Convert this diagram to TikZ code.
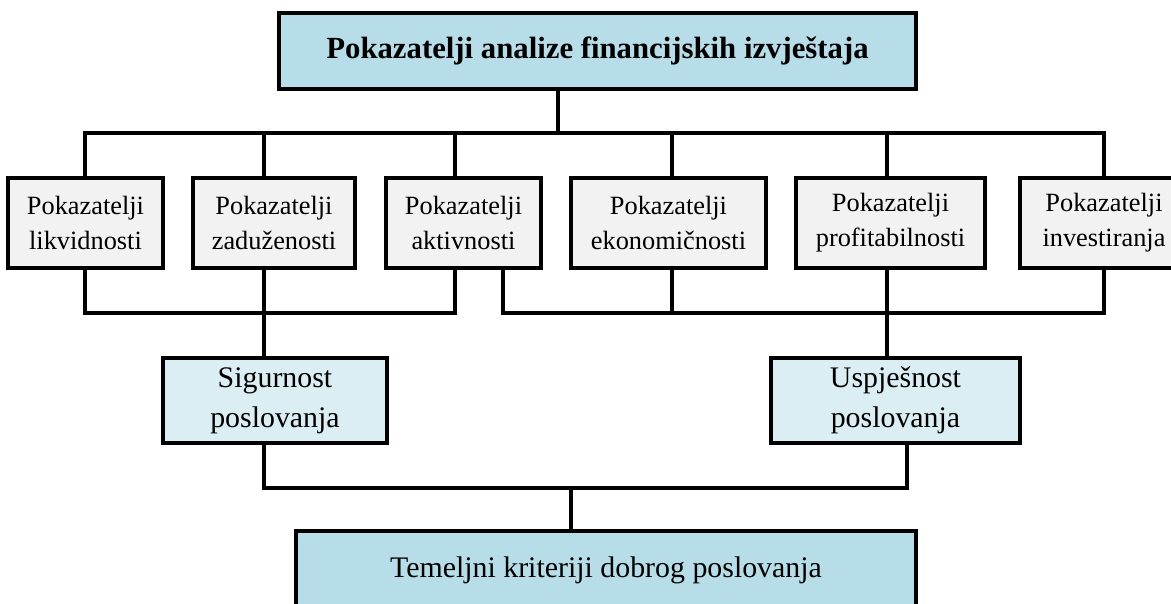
\documentclass[tikz,border=0pt]{standalone}
\usepackage{fontspec}
\setmainfont{Liberation Serif}
\definecolor{titleblue}{HTML}{B7DDE8}
\definecolor{paleblue}{HTML}{DAEEF3}
\definecolor{boxgray}{HTML}{F2F2F2}
\begin{document}
\begin{tikzpicture}[x=0.02cm, y=-0.02cm]
    \tikzstyle{box}=[rectangle, draw=black, line width=2pt, inner sep=0pt, align=center, text=black]
    \tikzstyle{kind}=[box, fill=boxgray, minimum height=1.8cm, font=\fontsize{15}{20}\selectfont]
    \tikzstyle{goal}=[box, fill=paleblue, minimum height=1.7cm, font=\fontsize{17}{23}\selectfont]
    \tikzstyle{link}=[black, line width=2pt]

    \path[use as bounding box, clip] (0,0) rectangle (1171,604);

    \node[box, fill=titleblue, minimum width=12.74cm, minimum height=1.52cm, font=\bfseries\fontsize{17.5}{21}\selectfont] (title) at (597.5,51) {Pokazatelji analize financijskih izvještaja};

    \node[kind, minimum width=3.1cm] (likv) at (85.5,223) {Pokazatelji\\likvidnosti};
    \node[kind, minimum width=3.24cm] (zad) at (274,223) {Pokazatelji\\zaduženosti};
    \node[kind, minimum width=3.1cm] (akt) at (463.5,223) {Pokazatelji\\aktivnosti};
    \node[kind, minimum width=3.9cm] (ekon) at (668.5,223) {Pokazatelji\\ekonomičnosti};
    \node[kind, minimum width=3.78cm] (prof) at (890.5,223) {Pokazatelji\\profitabilnosti};
    \node[kind, minimum width=3.36cm] (inv) at (1104,223) {Pokazatelji\\investiranja};

    \node[goal, minimum width=4.48cm] (sig) at (275,400.5) {Sigurnost\\poslovanja};
    \node[goal, minimum width=4.98cm] (usp) at (895.5,400.5) {Uspješnost\\poslovanja};

    \node[box, fill=titleblue, minimum width=12.4cm, minimum height=1.56cm, font=\fontsize{17}{21}\selectfont] (base) at (606,570) {Temeljni kriteriji dobrog poslovanja};

    % upper bus
    \coordinate (t0) at (558,133);
    \coordinate (t1) at (85,133);
    \coordinate (t2) at (264,133);
    \coordinate (t3) at (455,133);
    \coordinate (t4) at (672,133);
    \coordinate (t5) at (887,133);
    \coordinate (t6) at (1104,133);
    \draw[link] (t0 |- title.south) -- (t0);
    \draw[link] (t1 |- likv.north) -- (t1) -- (t6) -- (t6 |- inv.north);
    \draw[link] (t2) -- (t2 |- zad.north);
    \draw[link] (t3) -- (t3 |- akt.north);
    \draw[link] (t4) -- (t4 |- ekon.north);
    \draw[link] (t5) -- (t5 |- prof.north);

    % safety group
    \coordinate (l1) at (85,313);
    \coordinate (l2) at (264,313);
    \coordinate (l3) at (455,313);
    \draw[link] (l1 |- likv.south) -- (l1) -- (l3) -- (l3 |- akt.south);
    \draw[link] (l2 |- zad.south) -- (l2 |- sig.north);

    % success group
    \coordinate (r1) at (503,313);
    \coordinate (r2) at (672,313);
    \coordinate (r3) at (887,313);
    \coordinate (r4) at (1104,313);
    \draw[link] (r1 |- akt.south) -- (r1) -- (r4) -- (r4 |- inv.south);
    \draw[link] (r2 |- ekon.south) -- (r2);
    \draw[link] (r3 |- prof.south) -- (r3 |- usp.north);

    % lower bus
    \coordinate (s0) at (571,488);
    \coordinate (s1) at (264,488);
    \coordinate (s2) at (907,488);
    \draw[link] (s1 |- sig.south) -- (s1) -- (s2) -- (s2 |- usp.south);
    \draw[link] (s0) -- (s0 |- base.north);
\end{tikzpicture}
\end{document}
